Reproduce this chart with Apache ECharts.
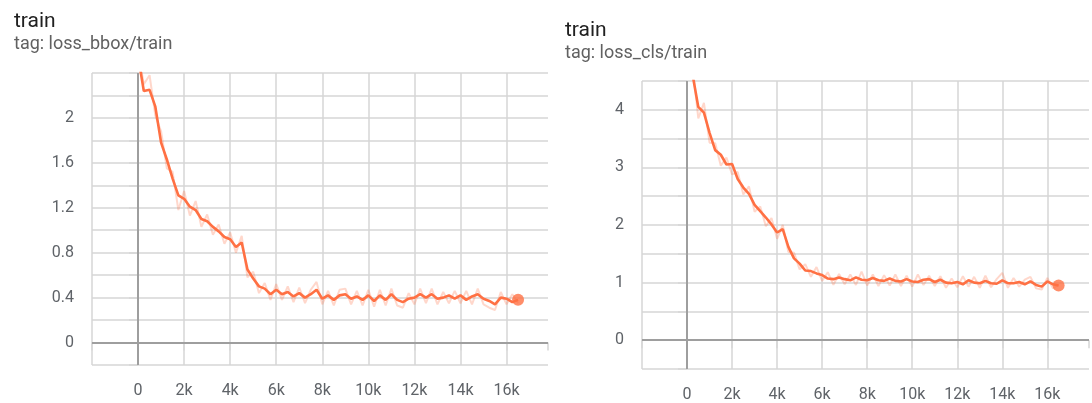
<!DOCTYPE html>
<html>
<head>
<meta charset="utf-8">
<script src="https://cdn.jsdelivr.net/npm/echarts@6/dist/echarts.min.js"></script>
<style>
  html, body { margin: 0; padding: 0; background: #fff; }
  #chart { width: 1092px; height: 403px; }
</style>
</head>
<body>
<div id="chart"></div>
<script>
// ---- data ----
const stepSize = 250; // steps between logged points (x = index * 250)

const bboxSmooth = [2.55, 2.24, 2.25, 2.10, 1.78, 1.63, 1.46, 1.31, 1.28, 1.21,
  1.18, 1.10, 1.08, 1.03, 0.99, 0.94, 0.92, 0.85, 0.89, 0.65,
  0.57, 0.50, 0.48, 0.43, 0.47, 0.43, 0.45, 0.41, 0.44, 0.40,
  0.43, 0.47, 0.39, 0.42, 0.38, 0.42, 0.43, 0.39, 0.41, 0.38,
  0.42, 0.37, 0.42, 0.38, 0.43, 0.38, 0.36, 0.39, 0.40, 0.43,
  0.40, 0.43, 0.39, 0.40, 0.42, 0.39, 0.42, 0.38, 0.41, 0.43,
  0.39, 0.37, 0.34, 0.40, 0.39, 0.36, 0.38];

const bboxRaw = [2.60, 2.30, 2.38, 2.02, 1.88, 1.55, 1.52, 1.18, 1.35, 1.13,
  1.26, 1.03, 1.14, 0.96, 1.05, 0.88, 0.98, 0.80, 0.95, 0.58,
  0.63, 0.44, 0.53, 0.38, 0.52, 0.38, 0.50, 0.36, 0.49, 0.35,
  0.47, 0.54, 0.34, 0.46, 0.33, 0.47, 0.48, 0.34, 0.46, 0.33,
  0.47, 0.32, 0.47, 0.33, 0.48, 0.33, 0.31, 0.44, 0.34, 0.48,
  0.35, 0.48, 0.34, 0.45, 0.35, 0.46, 0.35, 0.46, 0.34, 0.48,
  0.34, 0.31, 0.29, 0.45, 0.34, 0.43, 0.35];

const clsSmooth = [6.00, 4.60, 4.05, 3.95, 3.60, 3.30, 3.22, 3.05, 3.06, 2.80,
  2.65, 2.54, 2.35, 2.24, 2.13, 2.01, 1.87, 1.93, 1.62, 1.42,
  1.33, 1.21, 1.20, 1.16, 1.13, 1.07, 1.06, 1.09, 1.06, 1.04,
  1.09, 1.05, 1.04, 1.08, 1.04, 1.03, 1.07, 1.03, 1.02, 1.06,
  1.02, 1.01, 1.05, 1.06, 1.01, 1.05, 1.00, 0.99, 1.01, 0.97,
  1.04, 1.00, 0.99, 1.03, 0.99, 0.98, 1.04, 0.99, 0.99, 1.01,
  0.97, 1.02, 0.96, 0.93, 1.02, 0.97, 0.95];

const clsRaw = [6.20, 4.75, 3.85, 4.12, 3.43, 3.42, 3.03, 3.17, 2.88, 2.92,
  2.53, 2.67, 2.23, 2.32, 1.98, 2.12, 1.76, 2.00, 1.53, 1.52,
  1.23, 1.32, 1.10, 1.27, 1.03, 1.18, 0.96, 1.15, 0.97, 1.14,
  0.96, 1.19, 0.95, 1.14, 0.94, 1.13, 0.95, 1.14, 0.94, 1.12,
  0.93, 1.14, 0.96, 1.12, 0.94, 1.11, 0.91, 1.07, 0.92, 1.11,
  0.93, 1.10, 0.91, 1.12, 0.92, 1.06, 1.17, 0.91, 1.08, 0.93,
  1.05, 1.10, 0.90, 0.88, 1.08, 0.90, 0.96];

const titles = ['train', 'train'];
const tags = ['tag: loss_bbox/train', 'tag: loss_cls/train'];
const xTickLabels = ['0', '2k', '4k', '6k', '8k', '10k', '12k', '14k', '16k'];
const yTickLabelsBbox = ['0', '0.4', '0.8', '1.2', '1.6', '2'];
const yTickLabelsCls = ['0', '1', '2', '3', '4'];

// ---- build ----
function pairs(arr) { return arr.map((v, i) => [i * stepSize, v]); }

const ORANGE = '#ff7043';
const GRID = '#d6d6d6';
const LABEL = '#5f6368';
const FONT = 'Roboto, "Noto Sans", sans-serif';

function xAxisFor(gi, max) {
  return {
    type: 'value', gridIndex: gi, min: -2000, max: max, interval: 2000,
    axisLine: { show: false },
    axisTick: { show: true, length: 8, lineStyle: { color: GRID, width: 1.5 } },
    splitLine: { show: true, showMaxLine: false, lineStyle: { color: GRID, width: 1.5 } },
    axisLabel: {
      margin: 18, color: LABEL, fontSize: 16, fontFamily: FONT,
      formatter: function (v) {
        const k = Math.round(v / 1000);
        const s = k === 0 ? '0' : k + 'k';
        return (v >= 0 && v <= 16000 && xTickLabels.indexOf(s) >= 0) ? s : '';
      }
    }
  };
}

function yAxisFor(gi, min, max, interval, labels) {
  return {
    type: 'value', gridIndex: gi, min: min, max: max, interval: interval,
    axisLine: { show: false },
    axisTick: { show: true, length: 9, lineStyle: { color: GRID, width: 1.5 } },
    splitLine: { show: true, lineStyle: { color: GRID, width: 1.5 } },
    axisLabel: {
      margin: 18, color: LABEL, fontSize: 16, fontFamily: FONT,
      formatter: function (v) {
        const s = String(Math.round(v * 10) / 10);
        return (v < max - 1e-9 && labels.indexOf(s) >= 0) ? s : '';
      }
    }
  };
}

function seriesFor(gi, smooth, raw) {
  const last = smooth.length - 1;
  return [
    {
      type: 'line', xAxisIndex: gi, yAxisIndex: gi, data: pairs(raw),
      showSymbol: false, symbol: 'none', z: 2, silent: true,
      lineStyle: { color: 'rgba(255,112,67,0.28)', width: 2 },
      markLine: {
        silent: true, symbol: 'none', label: { show: false },
        lineStyle: { color: '#9e9e9e', width: 2, type: 'solid' },
        data: [{ yAxis: 0 }, { xAxis: 0 }]
      }
    },
    {
      type: 'line', xAxisIndex: gi, yAxisIndex: gi, data: pairs(smooth),
      showSymbol: false, symbol: 'none', z: 3,
      lineStyle: { color: ORANGE, width: 2.6 }
    },
    {
      type: 'scatter', xAxisIndex: gi, yAxisIndex: gi,
      data: [[last * stepSize, smooth[last]]],
      symbolSize: 12, z: 4, itemStyle: { color: ORANGE }
    }
  ];
}

const chart = echarts.init(document.getElementById('chart'), null, { renderer: 'canvas' });
chart.setOption({
  animation: false,
  backgroundColor: '#ffffff',
  title: [
    {
      text: titles[0], subtext: tags[0], left: 9, top: 6, itemGap: 3,
      textStyle: { fontSize: 21, fontWeight: 'normal', color: '#212121', fontFamily: FONT },
      subtextStyle: { fontSize: 18, color: '#616161', fontFamily: FONT }
    },
    {
      text: titles[1], subtext: tags[1], left: 560, top: 15, itemGap: 3,
      textStyle: { fontSize: 21, fontWeight: 'normal', color: '#212121', fontFamily: FONT },
      subtextStyle: { fontSize: 18, color: '#616161', fontFamily: FONT }
    }
  ],
  grid: [
    { left: 92, top: 73, width: 456, height: 292, containLabel: false },
    { left: 642, top: 81, width: 450, height: 288, containLabel: false }
  ],
  xAxis: [xAxisFor(0, 17800), xAxisFor(1, 17850)],
  yAxis: [
    yAxisFor(0, -0.2, 2.4, 0.2, yTickLabelsBbox),
    yAxisFor(1, -0.5, 4.5, 0.5, yTickLabelsCls)
  ],
  series: seriesFor(0, bboxSmooth, bboxRaw).concat(seriesFor(1, clsSmooth, clsRaw))
});
</script>
</body>
</html>
